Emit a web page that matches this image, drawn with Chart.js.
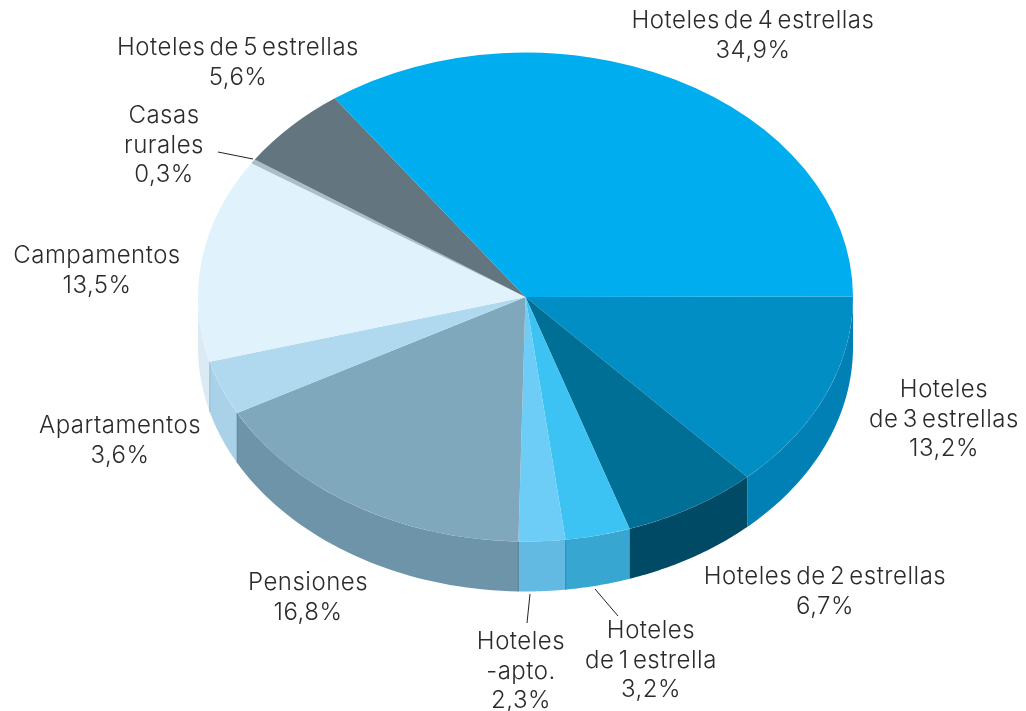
<!DOCTYPE html>
<html><head><meta charset="utf-8">
<style>html,body{margin:0;padding:0;background:#fff}#wrap{width:1026px;height:711px}</style>
<script src="https://cdn.jsdelivr.net/npm/chart.js@4"></script>
</head><body><div id="wrap"><canvas id="c" width="1026" height="711"></canvas></div>
<script>
const categories = ["Hoteles de 3 estrellas","Hoteles de 2 estrellas","Hoteles de 1 estrella","Hoteles-apto.","Pensiones","Apartamentos","Campamentos","Casas rurales","Hoteles de 5 estrellas","Hoteles de 4 estrellas"];
const shares = [13.2,6.7,3.2,2.3,16.8,3.6,13.5,0.3,5.6,34.9];
const topColors = ["#008EC4","#006F96","#3DC3F3","#6DCDF7","#80A8BD","#B0D8EF","#E0F2FB","#A9BFCB","#63767F","#00AEEF"];
const wallColors = ["#0080B4","#004A66","#37A6D1","#62BAE2","#6E94A9","#A9D2E9","#DCEBF3","#A9BFCB","#63767F","#00AEEF"];
const labelLines = [
 ["Hoteles","de 3 estrellas","13,2%"],["Hoteles de 2 estrellas","6,7%"],["Hoteles","de 1 estrella","3,2%"],["Hoteles","-apto.","2,3%"],["Pensiones","16,8%"],["Apartamentos","3,6%"],["Campamentos","13,5%"],["Casas","rurales","0,3%"],["Hoteles de 5 estrellas","5,6%"],["Hoteles de 4 estrellas","34,9%"]];
const labelAnchors = [[944,390],[825,577],[651,631],[521,642],[308,583],[120,426],[97,256],[164,116],[238,48],[753,21]];
const leaders = [[[218,152],[253,159]],[[530,594],[527,623]],[[595,589],[618,616]]];
const outlined = [2,3,4,5];
const CX = 525.5, CY = 297, SQUASH = 0.7465, DEPTH = 50, LINE = 29.5;
const FONT = '300 24px "Inter", sans-serif';

const pie3d = {
  id:'pie3d',
  beforeDatasetsDraw(chart){
    const ctx = chart.ctx, arcs = chart.getDatasetMeta(0).data;
    const a0 = arcs[0], cxO = a0.x, cyO = a0.y;
    ctx.save();
    arcs.forEach((arc,i)=>{
      const s = arc.startAngle, e = arc.endAngle, r = arc.outerRadius;
      const from = Math.max(s,0), to = Math.min(e,Math.PI);
      if(to<=from) return;
      const n=40, pt=(t,d)=>[CX+r*Math.cos(t),CY+r*SQUASH*Math.sin(t)+d];
      ctx.beginPath();
      for(let k=0;k<=n;k++){const p=pt(from+(to-from)*k/n,0);k?ctx.lineTo(p[0],p[1]):ctx.moveTo(p[0],p[1]);}
      for(let k=n;k>=0;k--){const p=pt(from+(to-from)*k/n,DEPTH);ctx.lineTo(p[0],p[1]);}
      ctx.closePath();
      ctx.fillStyle=wallColors[i];ctx.fill();
    });
    ctx.strokeStyle='rgba(50,70,85,0.3)';ctx.lineWidth=1;
    outlined.forEach(i=>{
      const arc=arcs[i], r=arc.outerRadius;
      [arc.startAngle,arc.endAngle].forEach(t=>{
        const x=CX+r*Math.cos(t),y=CY+r*SQUASH*Math.sin(t);
        ctx.beginPath();ctx.moveTo(x,y);ctx.lineTo(x,y+DEPTH);ctx.stroke();
      });
    });
    ctx.restore();
    ctx.save();
    ctx.translate(CX,CY);ctx.scale(1,SQUASH);ctx.translate(-cxO,-cyO);
  },
  afterDatasetsDraw(chart){
    const ctx = chart.ctx;
    ctx.restore();
    ctx.save();
    ctx.strokeStyle='#222';ctx.lineWidth=1;
    leaders.forEach(l=>{ctx.beginPath();ctx.moveTo(l[0][0],l[0][1]);ctx.lineTo(l[1][0],l[1][1]);ctx.stroke();});
    ctx.font=FONT;ctx.fillStyle='#2b2b2a';ctx.textAlign='center';ctx.textBaseline='middle';
    ctx.letterSpacing='0.5px';ctx.wordSpacing='-3px';
    labelLines.forEach((lines,i)=>{lines.forEach((t,j)=>ctx.fillText(t,labelAnchors[i][0],labelAnchors[i][1]+j*LINE));});
    ctx.restore();
  }
};

new Chart(document.getElementById('c'),{
  type:'pie',
  data:{labels:categories,datasets:[{data:shares,backgroundColor:topColors,borderWidth:0}]},
  options:{responsive:false,animation:false,rotation:89.9,
    layout:{padding:{left:198,right:173,top:28,bottom:28}},
    plugins:{legend:{display:false},tooltip:{enabled:false}}},
  plugins:[pie3d]
});
</script></body></html>
